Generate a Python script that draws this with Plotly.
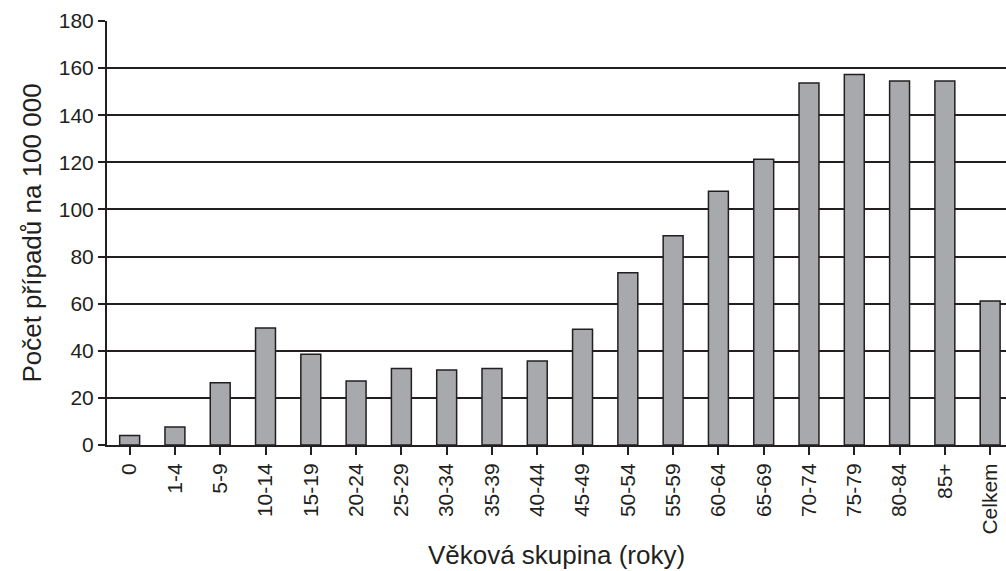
import plotly.graph_objects as go

categories = ["0", "1-4", "5-9", "10-14", "15-19", "20-24", "25-29", "30-34", "35-39",
              "40-44", "45-49", "50-54", "55-59", "60-64", "65-69", "70-74", "75-79",
              "80-84", "85+", "Celkem"]
values = [4.0, 7.6, 26.4, 49.7, 38.5, 27.2, 32.5, 31.8, 32.5, 35.7, 49.1, 73.1, 88.8,
          107.7, 121.3, 153.7, 157.3, 154.5, 154.5, 61.1]
y_ticks = [0, 20, 40, 60, 80, 100, 120, 140, 160, 180]

ink = "#231f20"
font_family = "Liberation Sans, Arial, sans-serif"

fig = go.Figure(go.Bar(
    x=list(range(len(categories))),
    y=values,
    width=0.44,
    marker=dict(color="#a7a9ac", line=dict(color=ink, width=1.5)),
))

fig.update_layout(
    width=1006, height=571,
    margin=dict(l=107, r=0, t=21, b=126),
    paper_bgcolor="white", plot_bgcolor="white",
    showlegend=False,
    font=dict(family=font_family, color=ink, size=21),
)

fig.update_xaxes(
    tickmode="array",
    tickvals=list(range(len(categories))),
    ticktext=categories,
    tickangle=-90,
    range=[-0.5, 19.35],
    showline=True, linecolor=ink, linewidth=2,
    ticks="outside", ticklen=8, tickcolor=ink, tickwidth=1.5,
    tickson="boundaries",
    showgrid=False, zeroline=False,
    tickfont=dict(size=21),
    title=dict(text="Věková skupina (roky)", font=dict(size=26), standoff=12),
)

fig.update_yaxes(
    range=[0, 180],
    tickmode="array", tickvals=y_ticks,
    showline=True, linecolor=ink, linewidth=2,
    ticks="outside", ticklen=7, tickcolor=ink, tickwidth=1.5,
    showgrid=True, gridcolor=ink, gridwidth=1.6,
    zeroline=False,
    tickfont=dict(size=21),
    title=dict(text="Počet případů na 100 000", font=dict(size=26), standoff=10),
)

fig.write_html(
    "out.html",
    config={"displayModeBar": False},
    post_script="document.body.style.margin='0';document.body.style.overflow='hidden';",
)
